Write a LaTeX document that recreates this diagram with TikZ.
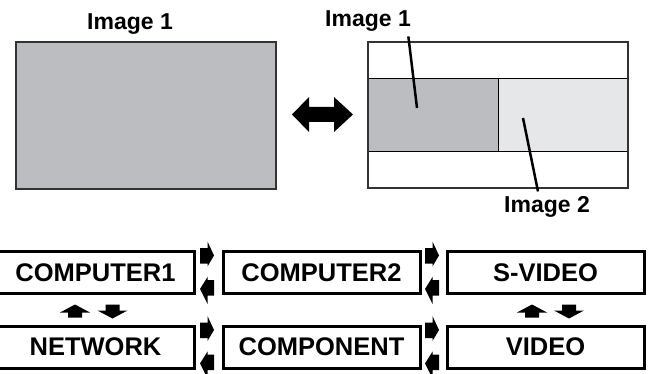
\documentclass[tikz,border=0pt]{standalone}
\usepackage{fontspec}
\setmainfont{Liberation Sans}
\usetikzlibrary{calc}

\definecolor{pipgray}{HTML}{BCBDC0}
\definecolor{piplight}{HTML}{E6E7E8}

\begin{document}
\begin{tikzpicture}[x=1pt, y=-1pt,
  srcbox/.style={draw, line width=3pt, minimum width=197pt, minimum height=42pt,
    inner sep=0pt, font=\fontsize{25.5}{30}\selectfont\bfseries},
  caption/.style={anchor=base, font=\fontsize{23}{26}\selectfont\bfseries},
  screen/.style={draw=black!80, line width=1.5pt},
  pointer/.style={line width=2.5pt},
  fwdhead/.pic={\fill (-7.5,-24.5) -- (0,-24.5) -- (0,-31) -- (6.5,-17) -- (0,-6)
    -- (0,-9) -- (-7.5,-9) -- cycle;},
  bwdhead/.pic={\fill (6.5,7.5) -- (0,7.5) -- (0,4.5) -- (-7.5,16.5) -- (0,31.5)
    -- (0,23) -- (6.5,23) -- cycle;},
  uphead/.pic={\fill (-15,1) -- (0,-7) -- (15,1) -- (7,1) -- (7,6) -- (-7,6)
    -- (-7,1) -- cycle;},
  downhead/.pic={\fill (-7,-7) -- (7,-7) -- (7,-1) -- (15,-1) -- (0,7)
    -- (-15,-1) -- (-7,-1) -- cycle;}]
  \useasboundingbox (0,0) rectangle (653,374);

  % single image
  \node[caption] (cap1) at (130,30) {Image 1};
  \fill[pipgray] (16,42) rectangle (276,189);
  \draw[screen] (16,42) rectangle (276,189);

  % swap arrow
  \fill (292,114.5) -- (309,97) -- (309,107) -- (334,107) -- (334,97) -- (353,114.5)
    -- (334,132) -- (334,122) -- (309,122) -- (309,132) -- cycle;

  % picture in picture
  \fill[pipgray] (368,79) rectangle (498,152);
  \fill[piplight] (498,79) rectangle (628,152);
  \draw[line width=1pt] (368,79) -- (628,79) (368,152) -- (628,152) (498,79) -- (498,152);
  \draw[screen] (368,42) rectangle (628,188);
  \node[caption] (capA) at (368,27) {Image 1};
  \node[caption] (capB) at (547,213) {Image 2};
  \coordinate (inA) at (417,108);
  \coordinate (inB) at (523,118);
  \draw[pointer] ($(capA.south east)+(-6,1)$) -- (inA);
  \draw[pointer] ($(capB.north)+(-9,-2)$) -- (inB);

  % input buttons
  \node[srcbox] (c1) at (95.5,272.5) {COMPUTER1};
  \node[srcbox] (c2) at (321.5,272.5) {COMPUTER2};
  \node[srcbox] (sv) at (545.5,272.5) {S-VIDEO};
  \node[srcbox] (nw) at (95.5,347) {NETWORK};
  \node[srcbox] (cp) at (321.5,347) {COMPONENT};
  \node[srcbox] (vd) at (545.5,347) {VIDEO};

  \foreach \a/\b in {c1/c2, c2/sv, nw/cp, cp/vd} {
    \pic at ($(\a.east)!0.5!(\b.west)+(-1,0)$) {fwdhead};
    \pic at ($(\a.east)!0.5!(\b.west)+(-1,0)$) {bwdhead};
  }

  \pic at (75,311.5) {uphead};
  \pic at (112.5,311.5) {downhead};
  \pic at (532,311.5) {uphead};
  \pic at (569,311.5) {downhead};
\end{tikzpicture}
\end{document}
